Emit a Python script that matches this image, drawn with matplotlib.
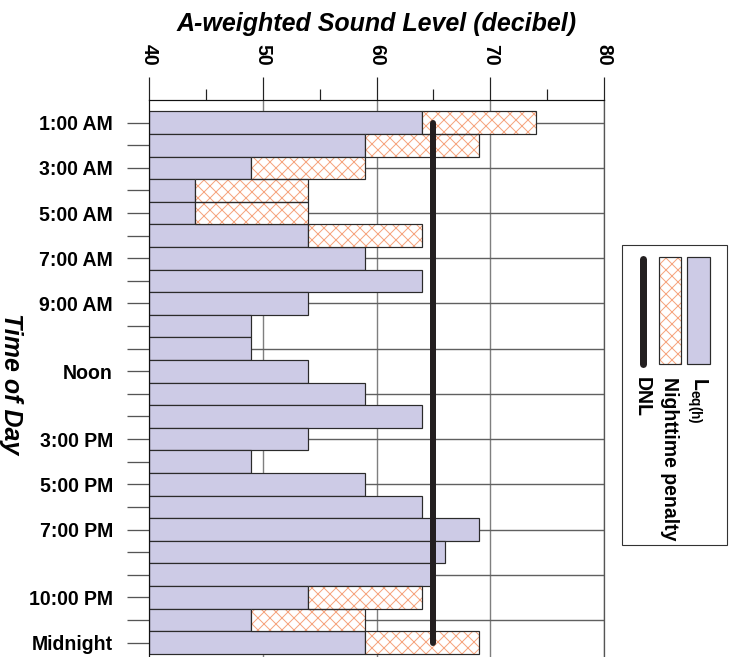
import matplotlib
matplotlib.use('Agg')
import matplotlib.pyplot as plt
import numpy as np
from matplotlib.patches import Rectangle
from matplotlib.lines import Line2D

plt.rcParams['font.family'] = ['Liberation Sans', 'DejaVu Sans']
plt.rcParams['font.weight'] = 'bold'
plt.rcParams['mathtext.fontset'] = 'custom'
plt.rcParams['mathtext.rm'] = 'Liberation Sans:bold'
plt.rcParams['mathtext.bf'] = 'Liberation Sans:bold'
plt.rcParams['hatch.linewidth'] = 1.0

# data
hours = np.arange(1, 25)
leq = [64, 59, 49, 44, 44, 54, 59, 64, 54, 49, 49, 54,
       59, 64, 54, 49, 59, 64, 69, 66, 64.8, 54, 49, 59]
penalty = [10, 10, 10, 10, 10, 10, 0, 0, 0, 0, 0, 0,
           0, 0, 0, 0, 0, 0, 0, 0, 0, 10, 10, 10]
hour_labels = ['1:00 AM', '', '3:00 AM', '', '5:00 AM', '', '7:00 AM', '', '9:00 AM', '', '', 'Noon',
               '', '', '3:00 PM', '', '5:00 PM', '', '7:00 PM', '', '', '10:00 PM', '', 'Midnight']
dnl = 65
x_ticks = [40, 50, 60, 70, 80]
x_minor = [45, 55, 65, 75]

leq_color = '#cdcbe6'
hatch_color = '#f6a47e'
edge = '#2b2b2b'

fig = plt.figure(figsize=(736 / 72, 657 / 72), dpi=72)
fig.patch.set_facecolor('white')
ax = fig.add_axes([149 / 736, 0, 455 / 736, 557 / 657])

# grid
for v in x_ticks[1:]:
    ax.axvline(v, color='#7f7f7f', lw=1.4, zorder=0)
for h in hours[::2]:
    ax.axhline(h, color='#606060', lw=1.4, zorder=0)

leq_arr = np.array(leq)
pen_arr = np.array(penalty)
ax.barh(hours, leq_arr - 40, left=40, height=1.0, color=leq_color,
        edgecolor=edge, linewidth=1.2, zorder=2)
night = pen_arr > 0
ax.barh(hours[night], pen_arr[night], left=leq_arr[night], height=1.0,
        color='white', edgecolor=hatch_color, hatch='xx', linewidth=0, zorder=2)
ax.barh(hours[night], pen_arr[night], left=leq_arr[night], height=1.0,
        fill=False, edgecolor=edge, linewidth=1.2, zorder=3)

# DNL line
ax.plot([dnl, dnl], [hours[0], hours[-1]], color='#231f20', lw=6,
        solid_capstyle='round', zorder=4)

ax.set_xlim(40, 80)
ax.set_ylim(24.64, 0)

ax.xaxis.tick_top()
ax.set_xticks(x_ticks)
ax.set_xticks(x_minor, minor=True)
ax.tick_params(axis='x', which='major', length=23, width=1.2, pad=11,
               labelsize=19.5, color='#222')
ax.tick_params(axis='x', which='minor', length=11, width=1.2, color='#222')
plt.setp(ax.get_xticklabels(), rotation=270, fontweight='bold')

ax.set_yticks(hours)
ax.set_yticklabels(hour_labels, fontweight='bold')
ax.tick_params(axis='y', length=22, width=1.3, pad=14, labelsize=19.5, color='#555')

ax.spines['bottom'].set_visible(False)
ax.spines['top'].set_color('#111')
ax.spines['top'].set_linewidth(1.2)
ax.spines['left'].set_color('#111')
ax.spines['left'].set_linewidth(1.2)
ax.spines['right'].set_color('#555')
ax.spines['right'].set_linewidth(1.3)

fig.text(376.5 / 736, 1 - 24 / 657, 'A-weighted Sound Level (decibel)',
         fontsize=25, fontweight='bold', fontstyle='italic', ha='center', va='center')
fig.text(11 / 736, 1 - 384 / 657, 'Time of Day', rotation=270,
         fontsize=25, fontweight='bold', fontstyle='italic', ha='center', va='center')

# rotated legend drawn on an overlay in pixel units
lg = fig.add_axes([0, 0, 1, 1], facecolor='none')
lg.set_xlim(0, 736)
lg.set_ylim(657, 0)
lg.axis('off')
lg.add_patch(Rectangle((622, 245), 105, 300, facecolor='white', edgecolor='#333', lw=1.1))
lg.add_patch(Rectangle((687, 257), 23, 107, facecolor=leq_color, edgecolor=edge, lw=1.2))
lg.add_patch(Rectangle((659, 257), 22, 107, facecolor='white', edgecolor=hatch_color,
                       hatch='xx', lw=0))
lg.add_patch(Rectangle((659, 257), 22, 107, fill=False, edgecolor=edge, lw=1.2))
lg.add_line(Line2D([642.5, 642.5], [258.5, 363.5], color='#231f20', lw=7,
                   solid_capstyle='round'))
lg.text(697, 377, r'$\mathbf{L}_{\mathbf{eq(h)}}$', rotation=270, fontsize=19.5,
        ha='center', va='top')
lg.text(670, 377, 'Nighttime penalty', rotation=270, fontsize=19.5,
        fontweight='bold', ha='center', va='top')
lg.text(642, 377, 'DNL', rotation=270, fontsize=19.5,
        fontweight='bold', ha='center', va='top')

fig.savefig('out.png', dpi=72)
